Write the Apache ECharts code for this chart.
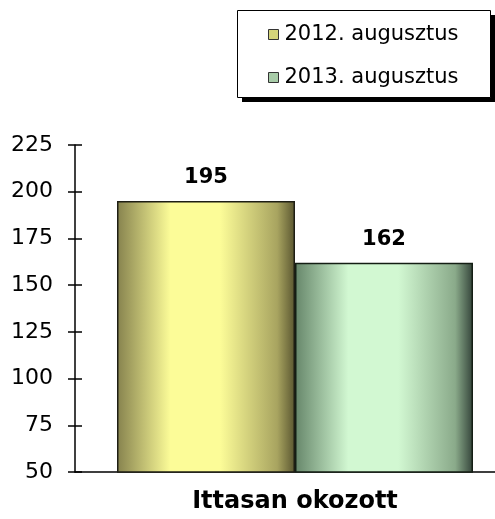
<!DOCTYPE html>
<html>
<head>
<meta charset="utf-8">
<script src="https://cdn.jsdelivr.net/npm/echarts@6/dist/echarts.min.js"></script>
<style>
  html, body { margin: 0; padding: 0; background: #fff; }
  #chart { width: 495px; height: 519px; }
</style>
</head>
<body>
<div id="chart"></div>
<script>
  var categories = ['Ittasan okozott'];
  var seriesNames = ['2012. augusztus', '2013. augusztus'];
  var values2012 = [195];
  var values2013 = [162];

  function grad(c0, c1, c2, c3) {
    return new echarts.graphic.LinearGradient(0, 0, 1, 0, [
      { offset: 0, color: c0 },
      { offset: 0.3, color: c1 },
      { offset: 0.58, color: c1 },
      { offset: 0.9, color: c2 },
      { offset: 1, color: c3 }
    ]);
  }

  var chartDom = document.getElementById('chart');
  var myChart = echarts.init(chartDom);
  var option;
  var font = 'DejaVu Sans';

  var yBase = {
    type: 'value',
    min: 50,
    max: 225,
    interval: 25,
    position: 'left',
    splitLine: { show: false }
  };

  option = {
    animation: false,
    // legend frame with its hard drop shadow
    graphic: [
      {
        type: 'rect',
        left: 242,
        top: 15,
        z: 0,
        shape: { width: 253, height: 87 },
        style: { fill: '#000' }
      },
      {
        type: 'rect',
        left: 237,
        top: 10,
        z: 1,
        shape: { width: 253, height: 87 },
        style: { fill: '#fff', stroke: '#000', lineWidth: 1 }
      }
    ],
    legend: {
      orient: 'vertical',
      left: 237,
      top: 10,
      z: 5,
      padding: [14, 24, 14, 31],
      itemGap: 22,
      itemWidth: 10,
      itemHeight: 10,
      icon: 'rect',
      textStyle: { fontFamily: font, fontSize: 21, color: '#000', padding: [0, 0, 0, 1] },
      data: [
        { name: seriesNames[0], itemStyle: { color: '#d4d47a', borderColor: '#333', borderWidth: 1 } },
        { name: seriesNames[1], itemStyle: { color: '#a8cca8', borderColor: '#333', borderWidth: 1 } }
      ]
    },
    grid: {
      left: 75,
      top: 145,
      width: 440,
      height: 327,
      outerBoundsMode: 'none'
    },
    xAxis: {
      type: 'category',
      data: categories,
      axisLine: { lineStyle: { color: '#000', width: 1.5 } },
      axisTick: { show: false },
      axisLabel: {
        margin: 18,
        fontFamily: font,
        fontWeight: 'bold',
        fontSize: 24,
        color: '#000'
      }
    },
    yAxis: [
      Object.assign({}, yBase, {
        axisLine: { show: true, lineStyle: { color: '#000', width: 1.5 } },
        axisTick: { show: true, length: 7, lineStyle: { color: '#000', width: 1.5 } },
        axisLabel: { margin: 22, fontFamily: font, fontSize: 22, color: '#000' }
      }),
      Object.assign({}, yBase, {
        axisLine: { show: false },
        axisTick: { show: true, inside: true, length: 7, lineStyle: { color: '#000', width: 1.5 } },
        axisLabel: { show: false }
      })
    ],
    series: [
      {
        name: seriesNames[0],
        type: 'bar',
        data: values2012,
        barWidth: 178,
        barGap: '0%',
        itemStyle: {
          color: grad('#86824e', '#fcfc98', '#a8a460', '#5a5630'),
          borderColor: '#1e1e14',
          borderWidth: 1.5
        },
        label: {
          show: true,
          position: 'top',
          distance: 13,
          fontFamily: font,
          fontWeight: 'bold',
          fontSize: 21,
          color: '#000'
        }
      },
      {
        name: seriesNames[1],
        type: 'bar',
        data: values2013,
        barWidth: 178,
        itemStyle: {
          color: grad('#66866a', '#d2f8d2', '#8aaa8a', '#34443a'),
          borderColor: '#141e14',
          borderWidth: 1.5
        },
        label: {
          show: true,
          position: 'top',
          distance: 13,
          fontFamily: font,
          fontWeight: 'bold',
          fontSize: 21,
          color: '#000'
        }
      }
    ]
  };
  option && myChart.setOption(option);
</script>
</body>
</html>
